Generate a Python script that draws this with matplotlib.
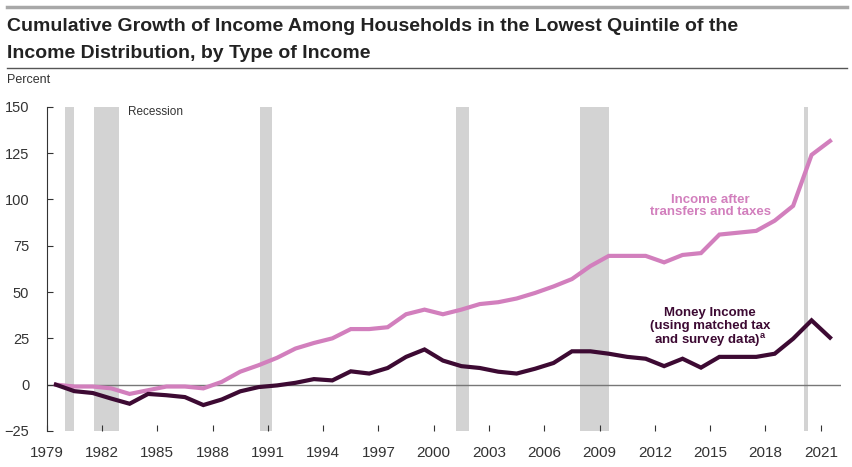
import matplotlib
matplotlib.use("Agg")
import matplotlib.pyplot as plt
from matplotlib.lines import Line2D
import numpy as np

plt.rcParams['font.family'] = ['Liberation Sans', 'DejaVu Sans']

# Data: cumulative growth since 1979, percent
years = list(range(1979, 2022))
after_tt = [0, -1, -1, -2, -5, -3, -1, -1, -2, 1.5, 7, 10.5, 14.5, 19.5, 22.5, 25,
            30, 30, 31, 38, 40.5, 38, 40.5, 43.5, 44.5, 46.5, 49.5, 53, 57, 64,
            69.5, 69.5, 69.5, 66, 70, 71, 81, 82, 83, 88.5, 96.5, 124, 131.5]
money = [0, -3.5, -4.5, -7.5, -10.3, -5, -5.7, -6.7, -11, -8, -3.6, -1.3, -0.4, 1,
         3, 2.3, 7.2, 6, 9, 15, 19, 13, 10, 9, 7, 6, 8.6, 11.7, 18, 18, 16.7,
         15, 14, 10, 14, 9.2, 15, 15, 15, 16.7, 24.8, 34.7, 25.4]

# recessions (start, end) in fractional years
rec_start = [1980.0, 1981.55, 1990.55, 2001.2, 2007.95, 2020.1]
rec_end = [1980.5, 1982.9, 1991.2, 2001.9, 2009.5, 2020.32]

xticks = [1979, 1982, 1985, 1988, 1991, 1994, 1997, 2000, 2003, 2006, 2009,
          2012, 2015, 2018, 2021]

pink = '#d27fbd'
dark = '#3d0a33'
grey_txt = '#333333'

fig = plt.figure(figsize=(8.53, 4.67), dpi=100)
ax = fig.add_axes([0.0547, 0.0771, 0.9313, 0.6944])

for s, e in zip(rec_start, rec_end):
    ax.axvspan(s, e, color='#d3d3d3', lw=0, zorder=0)

ax.axhline(0, color='#777777', lw=1, zorder=1)

# points sit in the middle of each year
x = np.array(years) + 0.5
ax.plot(x, after_tt, color=pink, lw=3.0, zorder=3, solid_joinstyle='miter')
ax.plot(x, money, color=dark, lw=3.0, zorder=3, solid_joinstyle='miter')

ax.set_xlim(1979, 2022.1)
ax.set_ylim(-25, 150)
ax.set_yticks([-25, 0, 25, 50, 75, 100, 125, 150])
ax.set_yticklabels(['\u221225', '0', '25', '50', '75', '100', '125', '150'])
ax.set_xticks(xticks)
ax.set_xticklabels([str(t) for t in xticks])

for sp in ['top', 'right', 'bottom']:
    ax.spines[sp].set_visible(False)
ax.spines['left'].set_color('#333333')
ax.spines['left'].set_linewidth(0.8)
ax.tick_params(axis='y', direction='in', length=4, width=0.8, color='#333333',
               pad=12.5, labelsize=10.5, labelcolor=grey_txt)
ax.tick_params(axis='x', direction='in', length=4, width=0.8, color='#333333',
               pad=10.5, labelsize=11, labelcolor=grey_txt)

ax.text(1983.4, 147, 'Recession', fontsize=8.5, color=grey_txt,
        ha='left', va='center')

ax.text(2015.0, 96.5, 'Income after\ntransfers and taxes', color=pink,
        fontsize=9.5, fontweight='bold', ha='center', va='center',
        linespacing=1.05)
ax.text(2015.0, 30.5, 'Money Income\n(using matched tax\nand survey data)$^{\\mathregular{a}}$',
        color=dark, fontsize=9.5, fontweight='bold', ha='center', va='center',
        linespacing=1.05)

# header
fig.add_artist(Line2D([0.0082, 0.993], [0.985, 0.985], color='#a8a8a8', lw=2.5))
fig.text(0.0082, 0.944, 'Cumulative Growth of Income Among Households in the Lowest Quintile of the',
         fontsize=14, fontweight='bold', color='#222222', va='center', ha='left')
fig.text(0.0082, 0.885, 'Income Distribution, by Type of Income',
         fontsize=14, fontweight='bold', color='#222222', va='center', ha='left')
fig.add_artist(Line2D([0.0082, 0.993], [0.8544, 0.8544], color='#555555', lw=1.0))
fig.text(0.0082, 0.8287, 'Percent', fontsize=9, color=grey_txt, va='center', ha='left')

fig.savefig('out.png', dpi=100)
